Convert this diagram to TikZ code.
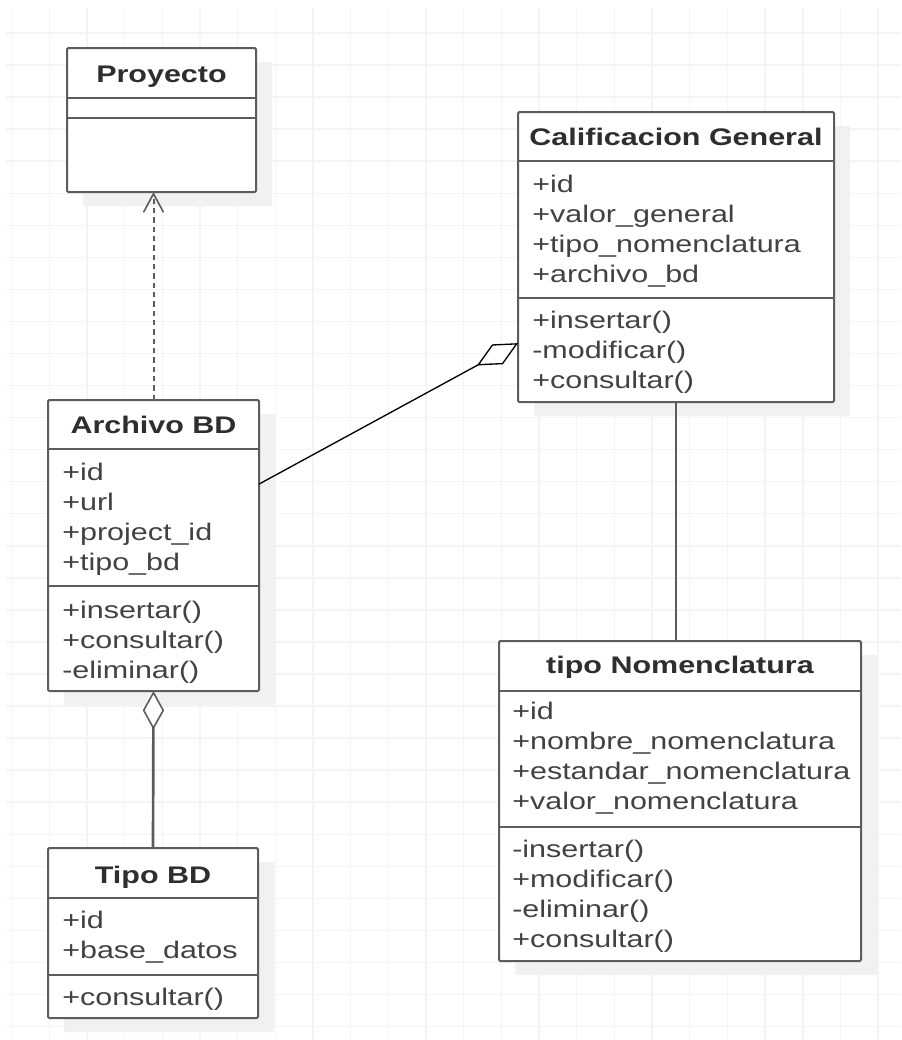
\documentclass[tikz,border=0pt]{standalone}
\usepackage{fontspec}
\setmainfont[FakeStretch=1.27]{Liberation Sans}
\usetikzlibrary{arrows.meta,shadows,calc}
\definecolor{gridgray}{rgb}{0.955,0.955,0.955}
\definecolor{shadowgray}{rgb}{0.945,0.945,0.945}
\definecolor{boxgray}{rgb}{0.36,0.36,0.36}
\definecolor{textgray}{rgb}{0.26,0.26,0.26}
\definecolor{titlegray}{rgb}{0.18,0.18,0.18}

\tikzset{
  classbox/.style={draw=boxgray, line width=1.5pt, fill=white, rounded corners=1pt,
    inner sep=0pt, outer sep=0pt, anchor=north west,
    drop shadow={shadow xshift=12pt, shadow yshift=-10.5pt, fill=shadowgray, opacity=1}},
  divider/.style={draw=boxgray, line width=1.5pt},
  classtitle/.style={anchor=base, inner sep=0pt, text=titlegray, font=\fontsize{18pt}{22.5pt}\selectfont\bfseries},
  members/.style={anchor=base west, inner sep=0pt, align=left, text=textgray, font=\fontsize{18pt}{22.5pt}\selectfont},
  assoc/.style={draw=boxgray, line width=2pt},
}

\begin{document}
\begin{tikzpicture}[x=0.75pt,y=0.75pt,yscale=-1,xscale=1]
\useasboundingbox (0,0) rectangle (901,1040);

%Grid
\foreach \gx in {0,...,23} \draw[gridgray, line width=1.1pt] (11.7+37.67*\gx,8) -- (11.7+37.67*\gx,1040);
\foreach \gy in {0,...,31} \draw[gridgray, line width=1.1pt] (6,33+32.05*\gy) -- (901,33+32.05*\gy);

%Shape: Class [Proyecto]
\node[classbox, minimum width=141.75pt, minimum height=108pt] (proyecto) at (67,48) {};
\draw[divider] (67,98) -- (256,98);
\draw[divider] (67,118) -- (256,118);
%Shape: Class [Calificacion General]
\node[classbox, minimum width=237pt, minimum height=217.5pt] (calif) at (518,112) {};
\draw[divider] (518,161) -- (834,161);
\draw[divider] (518,298) -- (834,298);
%Shape: Class [Archivo BD]
\node[classbox, minimum width=158.25pt, minimum height=218.25pt] (archivo) at (48,400) {};
\draw[divider] (48,449) -- (259,449);
\draw[divider] (48,586) -- (259,586);
%Shape: Class [Tipo BD]
\node[classbox, minimum width=157.5pt, minimum height=127.5pt] (tipobd) at (48,848) {};
\draw[divider] (48,898) -- (258,898);
\draw[divider] (48,975) -- (258,975);
%Shape: Class [tipo Nomenclatura]
\node[classbox, minimum width=271.5pt, minimum height=240pt] (tiponom) at (499,641) {};
\draw[divider] (499,691) -- (861,691);
\draw[divider] (499,827) -- (861,827);

% Text Node (members are placed at the baseline of their last line)
\node[classtitle] (proyecto-t) at (161.5,82) {Proyecto};
% Text Node
\node[classtitle] (calif-t) at (676,145) {Calificacion General};
\node[members] (calif-a) at (532,282) {+id\\+valor\_general\\+tipo\_nomenclatura\\+archivo\_bd};
\node[members] (calif-o) at (532,388) {+insertar()\\-modificar()\\+consultar()};
% Text Node
\node[classtitle] (archivo-t) at (153.5,433) {Archivo BD};
\node[members] (archivo-a) at (62,570) {+id\\+url\\+project\_id\\+tipo\_bd};
\node[members] (archivo-o) at (62,678) {+insertar()\\+consultar()\\-eliminar()};
% Text Node
\node[classtitle] (tipobd-t) at (153,883) {Tipo BD};
\node[members] (tipobd-a) at (62,958) {+id\\+base\_datos};
\node[members] (tipobd-o) at (62,1005) {+consultar()};
% Text Node
\node[classtitle] (tiponom-t) at (680,673) {tipo Nomenclatura};
\node[members] (tiponom-a) at (512,809) {+id\\+nombre\_nomenclatura\\+estandar\_nomenclatura\\+valor\_nomenclatura};
\node[members] (tiponom-o) at (512,947) {-insertar()\\+modificar()\\-eliminar()\\+consultar()};

%Connectors
\draw[boxgray, line width=1.5pt, dash pattern=on 4pt off 3pt, -{Straight Barb[length=14pt, width=15pt, line width=1.2pt]}] (archivo.north) -- (archivo.north |- proyecto.south);
\draw[line width=1pt, -{Diamond[fill=white, length=35pt, width=17pt]}] ($(archivo.north east)!0.289!(archivo.south east)$) -- ($(calif.north west)!0.797!(calif.south west)$);
\draw[assoc, {Diamond[fill=white, length=29pt, width=16pt, line width=1.2pt]}-] (archivo.south) -- (tipobd.north);
\draw[assoc] (calif.south) -- (calif.south |- tiponom.north);

\end{tikzpicture}
\end{document}
